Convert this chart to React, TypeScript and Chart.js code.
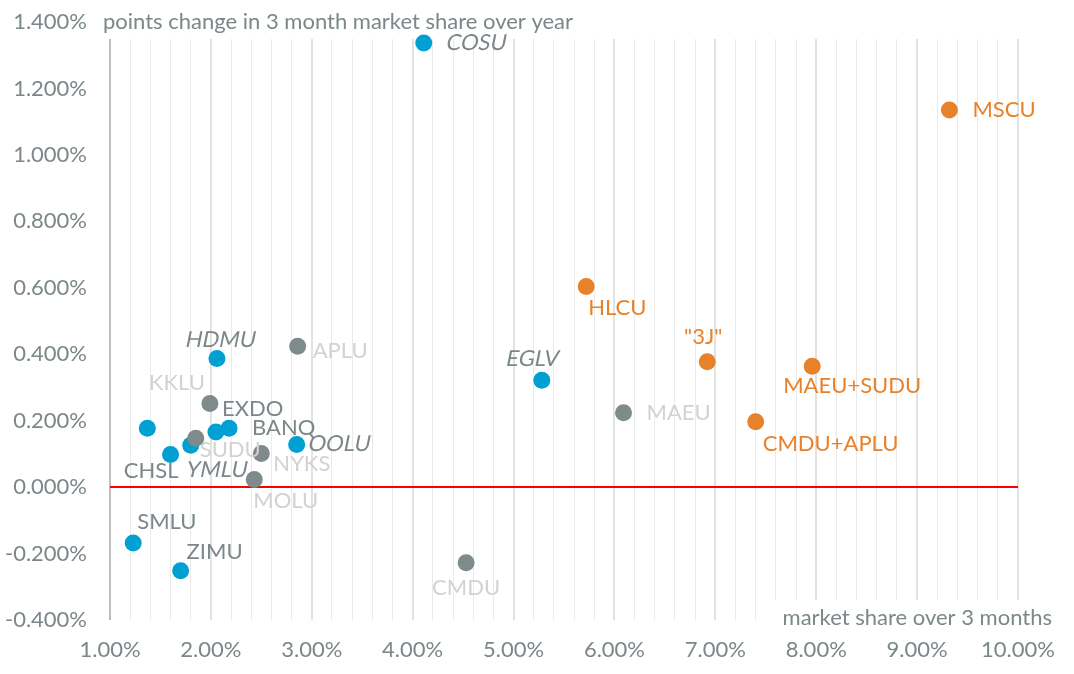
import { useEffect, useRef } from "react";
import { Chart, registerables } from "chart.js";

Chart.register(...registerables);

// ---- data ----
const carriers = [
  "COSU", "MSCU", "HLCU", "\"3J\"", "MAEU+SUDU", "CMDU+APLU", "MAEU", "EGLV",
  "APLU", "HDMU", "KKLU", "EXDO", "BANQ", "SUDU", "NYKS", "MOLU", "OOLU",
  "CHSL", "YMLU", "SMLU", "ZIMU", "CMDU", "",
];
const marketShare = [
  4.11, 9.32, 5.72, 6.92, 7.96, 7.40, 6.09, 5.28,
  2.86, 2.06, 1.99, 2.05, 2.18, 1.85, 2.50, 2.43, 2.85,
  1.60, 1.80, 1.23, 1.70, 4.53, 1.37,
];
const shareChange = [
  1.337, 1.135, 0.604, 0.377, 0.364, 0.197, 0.224, 0.322,
  0.424, 0.387, 0.252, 0.166, 0.177, 0.147, 0.101, 0.023, 0.128,
  0.098, 0.126, -0.168, -0.252, -0.228, 0.177,
];
// standalone carriers, carriers being merged, merged combinations
const group = [
  "standalone", "combined", "combined", "combined", "combined", "combined", "merging", "standalone",
  "merging", "standalone", "merging", "standalone", "standalone", "merging", "merging", "merging", "standalone",
  "standalone", "standalone", "standalone", "standalone", "merging", "standalone",
];
const yTicks = { min: -0.4, max: 1.4, step: 0.2 };
const xTicks = { min: 1, max: 10, step: 0.2 };
const yTitle = "points change in 3 month market share over year";
const xTitle = "market share over 3 months";

// ---- styles / layout ----
const groupColor: Record<string, string> = {
  standalone: "#00a0d2",
  merging: "#7f8b8b",
  combined: "#e8822a",
};
const groupLabelColor: Record<string, string> = {
  standalone: "#7b8788",
  merging: "#d2d2d2",
  combined: "#e8822a",
};
const italicLabels = ["COSU", "HDMU", "EGLV", "OOLU", "YMLU"];
// label placement per point: [dx, dy, align]
const labelPlacement: [number, number, CanvasTextAlign][] = [
  [23, 0, "left"], [23, 0, "left"], [2, 21, "left"], [-4, -25, "center"],
  [-29, 20, "left"], [7, 22, "left"], [23, 0, "left"], [-9, -21, "center"],
  [15, 5, "left"], [4, -19, "center"], [-5, -20, "right"], [6, -23, "left"],
  [23, 0, "left"], [4, 12, "left"], [12, 10, "left"], [-1, 21, "left"],
  [12, -1, "left"], [8, 16, "right"], [-4, 25, "left"], [4, -21, "left"],
  [6, -19, "left"], [0, 25, "center"], [0, 0, "left"],
];

const FONT = "Lato, 'Noto Sans', sans-serif";
const TEXT = "#7b8788";
const FS = 22;
const FS_TICK = 22;

const near = (v: number, t: number) => Math.abs(v - t) < 1e-6;
const isInt = (v: number) => near(v, Math.round(v));

export default function App() {
  const ref = useRef<HTMLCanvasElement | null>(null);

  useEffect(() => {
    if (!ref.current) return;
    const order = ["standalone", "merging", "combined"];
    const datasets = order.map((g, k) => {
      const idx = group.map((gg, i) => (gg === g ? i : -1)).filter((i) => i >= 0);
      return {
        label: g,
        order: 2 - k,
        data: idx.map((i) => ({ x: marketShare[i], y: shareChange[i], i })),
        backgroundColor: groupColor[g],
        borderWidth: 0,
        pointRadius: 8.5,
        pointHoverRadius: 8.5,
      };
    });

    const overlay = {
      id: "overlay",
      beforeDatasetsDraw(chart: any) {
        const c = chart.ctx;
        c.save();
        c.fillStyle = "#ffffff";
        c.fillRect(96, 0, 1074 - 96, 39);
        c.fillRect(765, 600, 1074 - 765, 74);
        c.fillStyle = TEXT;
        c.font = `${FS}px ${FONT}`;
        c.textBaseline = "middle";
        c.textAlign = "left";
        c.fillText(yTitle, 103, 22);
        c.textAlign = "right";
        c.fillText(xTitle, 1052, 618);
        c.restore();
      },
      afterDatasetsDraw(chart: any) {
        const c = chart.ctx;
        chart.data.datasets.forEach((ds: any, di: number) => {
          const meta = chart.getDatasetMeta(di);
          meta.data.forEach((el: any, j: number) => {
            const i = ds.data[j].i;
            const name = carriers[i];
            if (!name) return;
            const [dx, dy, align] = labelPlacement[i];
            const italic = italicLabels.includes(name);
            c.save();
            c.textBaseline = "middle";
            c.font = `${FS}px ${FONT}`;
            c.fillStyle = groupLabelColor[group[i]];
            c.textAlign = align;
            c.translate(el.x + dx, el.y + dy);
            if (italic) c.transform(1, 0, -0.2, 1, 0, 0);
            c.fillText(name, 0, 0);
            c.restore();
          });
        });
      },
    };

    const chart = new Chart(ref.current, {
      type: "scatter",
      data: { datasets: datasets as any },
      options: {
        animation: false,
        responsive: false,
        maintainAspectRatio: false,
        events: [],
        layout: { padding: { top: 22, right: 56, left: 0, bottom: 0 } },
        plugins: { legend: { display: false }, tooltip: { enabled: false } },
        scales: {
          x: {
            type: "linear",
            min: xTicks.min,
            max: xTicks.max,
            afterFit: (s: any) => { s.height = 54; },
            border: { display: false },
            grid: {
              drawTicks: true,
              tickLength: 17,
              tickColor: "rgba(0,0,0,0)",
              color: (ctx: any) => {
                const v = ctx.tick ? ctx.tick.value : 0;
                if (near(v, xTicks.min)) return "#bdbdbd";
                return isInt(v) ? "#e2e2e2" : "#eaeaea";
              },
              lineWidth: (ctx: any) => {
                const v = ctx.tick ? ctx.tick.value : 0;
                if (near(v, xTicks.min)) return 2;
                return isInt(v) ? 2 : 1;
              },
            },
            ticks: {
              stepSize: xTicks.step,
              maxTicksLimit: 100,
              autoSkip: false,
              maxRotation: 0,
              padding: 0,
              color: TEXT,
              font: { family: FONT, size: FS_TICK },
              z: 1,
              callback: (v: any) => (isInt(Number(v)) ? `${Number(v).toFixed(2)}%` : ""),
            } as any,
          },
          y: {
            type: "linear",
            min: yTicks.min,
            max: yTicks.max,
            afterFit: (s: any) => { s.width = 110; },
            border: { display: false },
            grid: {
              drawTicks: true,
              tickLength: 23,
              tickColor: "rgba(0,0,0,0)",
              color: (ctx: any) => (ctx.tick && near(ctx.tick.value, 0) ? "#ff0000" : "rgba(0,0,0,0)"),
              lineWidth: 2,
            },
            ticks: {
              stepSize: yTicks.step,
              padding: 0,
              color: TEXT,
              font: { family: FONT, size: FS_TICK },
              z: 1,
              callback: (v: any) => {
                const n = Math.abs(Number(v)) < 1e-9 ? 0 : Number(v);
                return `${n.toFixed(3)}%`;
              },
            } as any,
          },
        },
      },
      plugins: [overlay],
    });
    return () => chart.destroy();
  }, []);

  return (
    <div style={{ position: "fixed", left: 0, top: 0, width: 1074, height: 674, background: "#fff" }}>
      <canvas ref={ref} width={1074} height={674} style={{ width: 1074, height: 674 }} />
    </div>
  );
}
